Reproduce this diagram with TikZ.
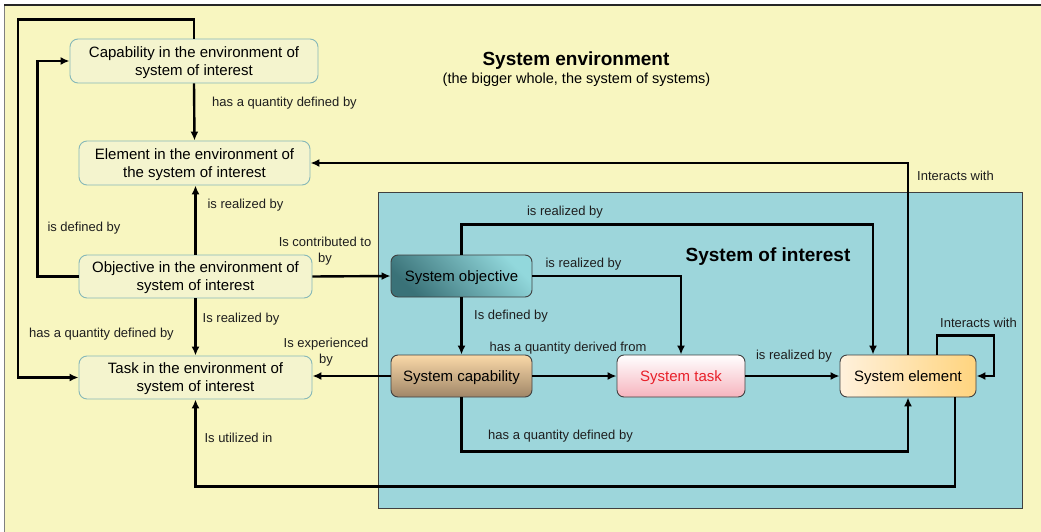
\documentclass[tikz,border=0pt]{standalone}
\usepackage{fontspec}
\setmainfont{Liberation Sans}
\usetikzlibrary{arrows.meta}
\definecolor{envbg}{HTML}{F8F6C0}
\definecolor{envbox}{HTML}{F4F4CE}
\definecolor{envline}{HTML}{86B8B8}
\definecolor{soibg}{HTML}{9DD6DB}
\definecolor{objdark}{HTML}{3A7278}
\definecolor{objlight}{HTML}{92D8DC}
\definecolor{captop}{HTML}{FAD9A8}
\definecolor{capbot}{HTML}{A08668}
\definecolor{taskbot}{HTML}{F6B4BE}
\definecolor{taskred}{HTML}{E8202A}
\definecolor{elemleft}{HTML}{FFF1DC}
\definecolor{elemright}{HTML}{FFD47E}
\definecolor{txt}{HTML}{1E1E1E}
\begin{document}
\begin{tikzpicture}[x=1pt,y=-1pt,
  envnode/.style={draw=envline, line width=0.9pt, fill=envbox, rounded corners=8pt,
    align=center, font=\fontsize{15}{18}\selectfont, text=black, inner sep=0pt,
    text depth=-2pt},
  sysnode/.style={draw=black!75, line width=0.9pt, rounded corners=7pt,
    align=center, font=\fontsize{15}{18}\selectfont, text=black, inner sep=0pt,
    minimum height=42pt, text height=11pt, text depth=-0.5pt},
  lbl/.style={font=\fontsize{13}{16}\selectfont, text=txt, align=center, inner sep=0pt,
    yshift=-2.5pt},
  ttl/.style={font=\bfseries\fontsize{19}{22}\selectfont, yshift=-2.5pt},
  arr/.style={line width=2.4pt, -{Latex[length=9pt,width=8pt]}, line join=miter}
]
\useasboundingbox (0,0) rectangle (1041,532);
% environment background
\fill[white] (0,0) rectangle (1041,532);
\fill[envbg] (4,5) rectangle (1041,532);
\draw[gray, line width=1pt] (4,5) -- (4,532);
\draw[black!85, line width=1.2pt] (4,5) -- (1041,5);
% system of interest area
\draw[fill=soibg, draw=black!75, line width=1pt] (378,192) rectangle (1022,508);

\node[ttl] (envtitle) at (576,58) {System environment};
\node[font=\fontsize{14.5}{17}\selectfont, yshift=-2.5pt] (envsub) at (576.5,77) {(the bigger whole, the system of systems)};
\node[ttl] (soititle) at (768,254) {System of interest};

% environment nodes
\node[envnode, minimum width=248pt, minimum height=44pt] (capE) at (194,61)
  {Capability in the environment of\\system of interest};
\node[envnode, minimum width=231pt, minimum height=44pt] (eleE) at (194.5,163)
  {Element in the environment of\\the system of interest};
\node[envnode, minimum width=233pt, minimum height=43pt] (objE) at (195.5,276.5)
  {Objective in the environment of\\system of interest};
\node[envnode, minimum width=233pt, minimum height=43pt] (taskE) at (195.5,377.5)
  {Task in the environment of\\system of interest};

% system nodes
\node[sysnode, minimum width=141pt, left color=objdark, right color=objlight, shading angle=135] (sobj) at (461.5,276) {System objective};
\node[sysnode, minimum width=141pt, top color=captop, bottom color=capbot] (scap) at (461.5,376) {System capability};
\node[sysnode, minimum width=128pt, top color=white, bottom color=taskbot, text=taskred] (stask) at (681,376) {System task};
\node[sysnode, minimum width=136pt, left color=elemleft, right color=elemright] (selem) at (908,376) {System element};

% connectors in the environment
\draw[arr] (capE.north) -- ++(0,-19) -| ++(-176,0) |- (taskE.west);
\draw[arr] (objE.west) -- ++(-41,0) |- (capE.west);
\draw[arr] (capE.south) -- (eleE.north);
\draw[arr] (objE.north) -- (objE.north |- eleE.south);
\draw[arr] (objE.south) -- (objE.south |- taskE.north);
\draw[arr] (objE.east) -- (sobj.west);
\draw[arr] (scap.west) -- (scap.west -| taskE.east);
\draw[arr] ([xshift=47pt]selem.south) -- ++(0,89) -| (taskE.south);
\draw[arr] (selem.north) |- (eleE.east);

% connectors in the system of interest
\draw[arr] (sobj.north) -- ++(0,-30) -| ([xshift=-35pt]selem.north);
\draw[arr] (sobj.east) -| (stask.north);
\draw[arr] (sobj.south) -- (scap.north);
\draw[arr] (scap.east) -- (stask.west);
\draw[arr] (stask.east) -- (selem.west);
\draw[arr] (scap.south) -- ++(0,54) -| (selem.south);
\draw[arr] ([xshift=29pt]selem.north) -- ++(0,-19) -- ++(57,0) |- (selem.east);

% relation labels
\node[lbl] (l1) at (284.5,101) {has a quantity defined by};
\node[lbl] (l2) at (101.5,332) {has a quantity defined by};
\node[lbl] (l3) at (84,226) {is defined by};
\node[lbl] (l4) at (245.5,203) {is realized by};
\node[lbl] (l5) at (241,317) {Is realized by};
\node[lbl] (l6) at (325,249) {Is contributed to\\by};
\node[lbl] (l7) at (326,350) {Is experienced\\by};
\node[lbl] (l8) at (238.5,435) {Is utilized in};
\node[lbl] (l9) at (955.5,173) {Interacts with};
\node[lbl] (l10) at (565,210) {is realized by};
\node[lbl] (l11) at (583.5,262) {is realized by};
\node[lbl] (l12) at (511,314) {Is defined by};
\node[lbl] (l13) at (568,346) {has a quantity derived from};
\node[lbl] (l14) at (794,354) {is realized by};
\node[lbl] (l15) at (560.5,434) {has a quantity defined by};
\node[lbl] (l16) at (978.5,320) {Interacts with};
\end{tikzpicture}
\end{document}
